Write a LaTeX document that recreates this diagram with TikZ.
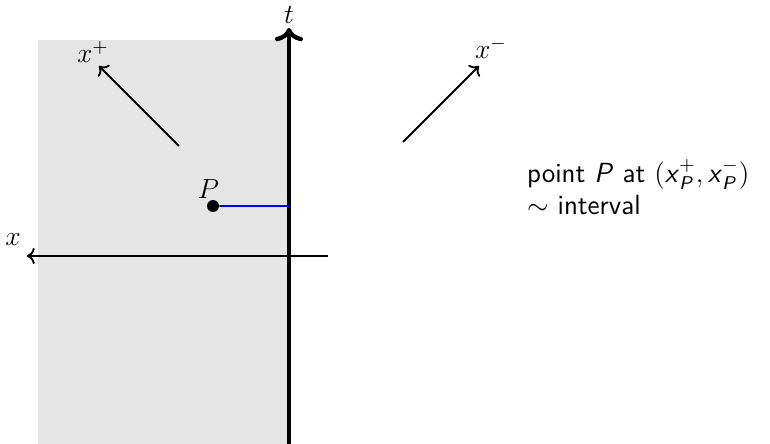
\documentclass[tikz,border=0pt]{standalone}
\usepackage{amsmath, amssymb}
\usepackage{xcolor}
\usepackage{tikz}
\usetikzlibrary{arrows.meta, positioning, calc}

\newcommand{\sitl}[1]{\textsf{\textit{#1}}}

\begin{document}
\begin{tikzpicture}[scale=0.61, every node/.style={font=\large}]
    \useasboundingbox (-7.225, -4.7) rectangle (12.025, 6.4);
    % shaded region
    \fill[black!10] (-6.275, -4.7) rectangle (0, 5.4);

    % axes
    \coordinate (tbot) at (0, -4.7);
    \coordinate (ttop) at (0, 5.7);
    \coordinate (xright) at (0.975, 0);
    \coordinate (xleft) at (-6.55, 0);
    \draw[->, thick] (xright) -- (xleft);
    \draw[->, line width=1.9pt] (tbot) -- (ttop);
    \node (tlab) at (0, 6.02) {$t$};
    \node (xlab) at (-6.9, 0.4) {$x$};

    % light-cone directions
    \coordinate (pa) at (-2.75, 2.75);
    \coordinate (pb) at (-4.75, 4.75);
    \draw[->, thick] (pa) -- (pb);
    \node (xplus) at (-4.9, 5.1) {$x^+$};
    \coordinate (ma) at (2.85, 2.85);
    \coordinate (mb) at (4.75, 4.75);
    \draw[->, thick] (ma) -- (mb);
    \node (xminus) at (5.05, 5.2) {$x^-$};

    % point P
    \node[circle, fill, inner sep=0pt, minimum size=5.2pt] (P) at (-1.9, 1.25) {};
    \node[above=-3pt of P, xshift=-2pt] (Plab) {$P$};
    \coordinate (Pt) at (0, 1.25);
    \draw[blue, thick] (P) -- (Pt);

    % description
    \node[right, align=left, font=\sffamily\large] (desc) at (5.75, 1.72)
        {point \sitl{P} at $(\sitl{x}^+_{\sitl{P}}, \sitl{x}^-_{\sitl{P}})$\\ $\sim$ interval};
\end{tikzpicture}
\end{document}
